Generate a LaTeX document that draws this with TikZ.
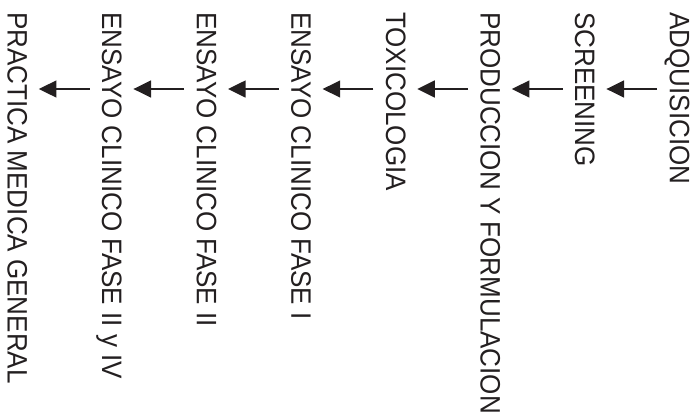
\documentclass[tikz,border=0pt]{standalone}
\usepackage{fontspec}
\setmainfont{Liberation Sans}
\usepackage{tikz}
\usetikzlibrary{positioning,arrows.meta,calc}
\definecolor{ink}{HTML}{231F20}
\tikzset{
  >=stealth,
  % --- etapas (texto girado, de arriba hacia abajo)
  etapa/.style = {rotate=-90, yscale=1.08, anchor=base west, inner sep=0pt, text=ink,
                  font=\fontsize{18.5}{22}\selectfont},
  % --- flechas
  flecha/.style = {-{Triangle[length=4.4mm,width=4.2mm]}, line width=1.4pt, draw=ink},
}
\begin{document}
\begin{tikzpicture}
  \useasboundingbox (0,0) rectangle (17.425,-10.35);

  \node[etapa] (adq)    at (16.745,-0.30) {ADQUISICION};
  \node[etapa] (scr)    at (14.380,-0.30) {SCREENING};
  \node[etapa] (prod)   at (12.015,-0.30) {PRODUCCION Y FORMULACION};
  \node[etapa] (tox)    at (9.650,-0.30)  {TOXICOLOGIA};
  \node[etapa] (fase1)  at (7.285,-0.30)  {ENSAYO CLINICO FASE I};
  \node[etapa] (fase2)  at (4.920,-0.30)  {ENSAYO CLINICO FASE II};
  \node[etapa] (fase34) at (2.555,-0.30)  {ENSAYO CLINICO FASE II y IV};
  \node[etapa] (prac)   at (0.190,-0.30)  {PRACTICA MEDICA GENERAL};

  % cada etapa lleva a la siguiente (hacia la izquierda)
  \foreach \a/\b in {adq/scr, scr/prod, prod/tox, tox/fase1,
                     fase1/fase2, fase2/fase34, fase34/prac}
    \draw[flecha] ([shift={(-0.315,-1.925)}]\a.base west)
               -- ([shift={(0.78,-1.925)}]\b.base west);
\end{tikzpicture}
\end{document}
